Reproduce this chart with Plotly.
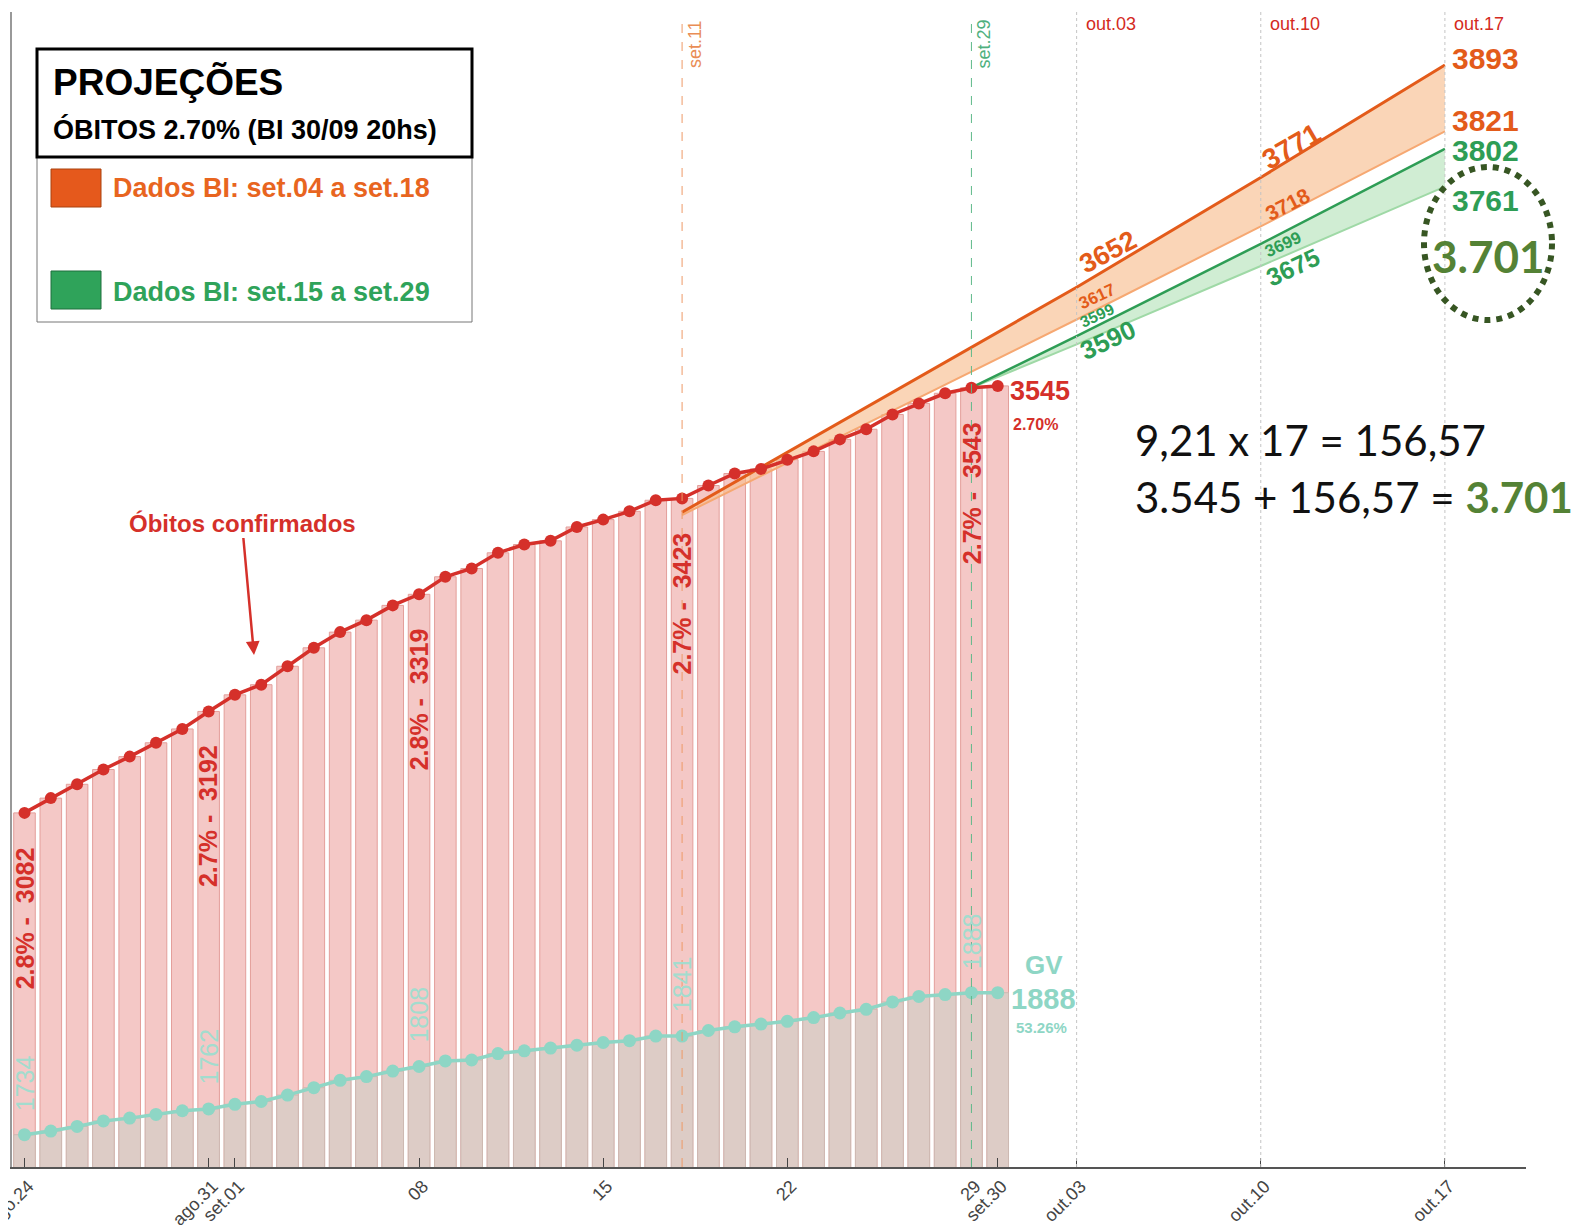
import pandas as pd
import plotly.graph_objects as go

# ---------------- data ----------------
dates = pd.date_range("2020-08-24", "2020-09-30", freq="D")
deaths = [3082, 3098, 3113, 3129, 3143, 3158, 3173, 3192,
          3210, 3221, 3241, 3261, 3278, 3291, 3307, 3319, 3338, 3347,
          3364, 3373, 3377, 3392, 3400, 3409, 3421, 3423, 3437, 3450,
          3455, 3465, 3474, 3487, 3498, 3514, 3526, 3537, 3543, 3545]
gv = [1734, 1738, 1743, 1749, 1752, 1756, 1760, 1762,
      1767, 1770, 1777, 1785, 1793, 1797, 1803, 1808, 1814, 1815,
      1822, 1825, 1828, 1831, 1834, 1836, 1841, 1841, 1847, 1851,
      1854, 1857, 1861, 1866, 1870, 1878, 1884, 1886, 1888, 1888]
label_idx = [0, 7, 15, 25, 36]
label_pct = ["2.8%", "2.7%", "2.8%", "2.7%", "2.7%"]

proj_or_dates = ["2020-09-18", "2020-10-03", "2020-10-10", "2020-10-17"]
proj_or_hi = [3408, 3652, 3771, 3893]
proj_or_lo = [3405, 3617, 3718, 3821]
proj_gr_dates = ["2020-09-29", "2020-10-03", "2020-10-10", "2020-10-17"]
proj_gr_hi = [3543, 3599, 3699, 3802]
proj_gr_lo = [3543, 3590, 3675, 3761]

tick_vals = ["2020-08-24", "2020-08-31", "2020-09-01", "2020-09-08", "2020-09-15",
             "2020-09-22", "2020-09-29", "2020-09-30", "2020-10-03", "2020-10-10",
             "2020-10-17"]
tick_text = ["ago.24", "ago.31", "set.01", "08", "15", "22", "29", "set.30",
             "out.03", "out.10", "out.17"]
week_lines = ["2020-10-03", "2020-10-10", "2020-10-17"]
week_labels = ["out.03", "out.10", "out.17"]

# ---------------- style ----------------
FONT = "Liberation Sans, Arial, sans-serif"
RED = "#D5302A"
PINK = "#F4C8C6"
PINK_EDGE = "#E39E9A"
TAUPE = "#DDCCC6"
TAUPE_EDGE = "#CDB9B2"
MINT = "#8ED6C5"
MINT_LIGHT = "#A3DCCE"
ORANGE = "#E35B1A"
ORANGE_LIGHT = "#F6A872"
ORANGE_FILL = "rgba(248,190,145,0.65)"
GREEN = "#2E9D55"
GREEN_LIGHT = "#9FD9A6"
GREEN_FILL = "rgba(170,222,175,0.55)"
DAY_MS = 86400000

BODY = 8                      # default page margin around the figure
L, T, W, H = 12, 12, 1514, 1155   # plot area in page pixels
FIG_W, FIG_H = 1580 - BODY, 1225 - BODY


def px(x):
    return (x - L) / W


def py(y):
    return (T + H - y) / H


fig = go.Figure()

# bars
fig.add_trace(go.Bar(x=dates, y=deaths, width=0.82 * DAY_MS,
                     marker=dict(color=PINK, line=dict(color=PINK_EDGE, width=1)),
                     hoverinfo="skip"))
fig.add_trace(go.Bar(x=dates, y=gv, width=0.82 * DAY_MS, yaxis="y2",
                     marker=dict(color=TAUPE, line=dict(color=TAUPE_EDGE, width=1)),
                     hoverinfo="skip"))

# projection bands
fig.add_trace(go.Scatter(x=proj_or_dates, y=proj_or_lo, mode="lines",
                         line=dict(color=ORANGE_LIGHT, width=2)))
fig.add_trace(go.Scatter(x=proj_or_dates, y=proj_or_hi, mode="lines", fill="tonexty",
                         fillcolor=ORANGE_FILL, line=dict(color=ORANGE, width=3)))
fig.add_trace(go.Scatter(x=proj_gr_dates, y=proj_gr_lo, mode="lines",
                         line=dict(color=GREEN_LIGHT, width=2)))
fig.add_trace(go.Scatter(x=proj_gr_dates, y=proj_gr_hi, mode="lines", fill="tonexty",
                         fillcolor=GREEN_FILL, line=dict(color=GREEN, width=2.5)))

# lines
fig.add_trace(go.Scatter(x=dates, y=deaths, mode="lines+markers",
                         line=dict(color=RED, width=3.5),
                         marker=dict(color=RED, size=12)))
fig.add_trace(go.Scatter(x=dates, y=gv, mode="lines+markers", yaxis="y2",
                         line=dict(color=MINT, width=3.5),
                         marker=dict(color=MINT, size=13)))

shapes = []
ann = []

# vertical reference lines
for d in week_lines:
    shapes.append(dict(type="line", xref="x", yref="paper", x0=d, x1=d, y0=0, y1=1,
                       line=dict(color="#C4C4C4", width=1, dash="dot"), layer="above"))
shapes.append(dict(type="line", xref="x", yref="paper", x0=dates[25], x1=dates[25],
                   y0=0, y1=0.995, line=dict(color="#EE9A66", width=1, dash="dash"),
                   layer="above"))
shapes.append(dict(type="line", xref="x", yref="paper", x0=dates[36], x1=dates[36],
                   y0=0, y1=0.995, line=dict(color="#5FB98A", width=1, dash="dash"),
                   layer="above"))

for d, t in zip(week_lines, week_labels):
    ann.append(dict(x=d, y=py(24), xref="x", yref="paper", text=t, showarrow=False,
                    xanchor="left", yanchor="middle", xshift=7,
                    font=dict(family=FONT, size=18, color="#D42A1E")))
ann.append(dict(x=dates[25], y=py(44), xref="x", yref="paper", text="set.11",
                showarrow=False, textangle=-90, xanchor="left", xshift=1,
                font=dict(family=FONT, size=18, color="#E98D55")))
ann.append(dict(x=dates[36], y=py(44), xref="x", yref="paper", text="set.29",
                showarrow=False, textangle=-90, xanchor="left", xshift=1,
                font=dict(family=FONT, size=18, color="#4FB07E")))

# vertical labels in bars
for i, p in zip(label_idx, label_pct):
    ann.append(dict(x=dates[i], y=deaths[i], xref="x", yref="y",
                    text=f"<b>{p} -  {deaths[i]}</b>", showarrow=False,
                    textangle=-90, xanchor="center", yanchor="top", yshift=-32,
                    font=dict(family=FONT, size=25, color=RED)))
    ann.append(dict(x=dates[i], y=gv[i], xref="x", yref="y2",
                    text=f"{gv[i]}", showarrow=False,
                    textangle=-90, xanchor="center", yanchor="bottom", yshift=22,
                    font=dict(family=FONT, size=25, color=MINT_LIGHT)))

# end labels
ann += [
    dict(x=px(1008), y=py(391), text=f"<b>{deaths[-1]}</b>",
         font=dict(family=FONT, size=27, color=RED)),
    dict(x=px(1011), y=py(424), text="<b>2.70%</b>",
         font=dict(family=FONT, size=16, color=RED)),
    dict(x=px(1023), y=py(965), text="<b>GV</b>",
         font=dict(family=FONT, size=26, color=MINT)),
    dict(x=px(1009), y=py(999), text=f"<b>{gv[-1]}</b>",
         font=dict(family=FONT, size=29, color=MINT)),
    dict(x=px(1014), y=py(1027), text="<b>53.26%</b>",
         font=dict(family=FONT, size=15, color=MINT)),
]

# projection labels
proj_lab = [
    (1108, 252, proj_or_hi[1], 27, ORANGE, -28),
    (1097, 296, proj_or_lo[1], 17, ORANGE, -25),
    (1097, 315, proj_gr_hi[1], 16, GREEN, -25),
    (1108, 340, proj_gr_lo[1], 26, GREEN, -25),
    (1291, 146, proj_or_hi[2], 28, ORANGE, -30),
    (1287, 204, proj_or_lo[2], 21, ORANGE, -27),
    (1283, 244, proj_gr_hi[2], 17, GREEN, -25),
    (1293, 267, proj_gr_lo[2], 25, GREEN, -25),
]
for x, y, v, s, c, a in proj_lab:
    ann.append(dict(x=px(x), y=py(y), text=f"<b>{v}</b>", textangle=a,
                    xanchor="center", font=dict(family=FONT, size=s, color=c)))
for y, v, c in [(59, proj_or_hi[3], ORANGE), (120, proj_or_lo[3], ORANGE),
                (150, proj_gr_hi[3], GREEN), (200, proj_gr_lo[3], GREEN)]:
    ann.append(dict(x=px(1450), y=py(y), text=f"<b>{v}</b>",
                    font=dict(family=FONT, size=30, color=c)))

# circled result
shapes.append(dict(type="circle", xref="paper", yref="paper",
                   x0=px(1424), x1=px(1552), y0=py(320), y1=py(167),
                   line=dict(color="#375623", width=6, dash="dot"), layer="above"))
ann.append(dict(x=px(1488), y=py(256), text="<b>3.701</b>", xanchor="center",
                font=dict(family="Lato, Open Sans, sans-serif", size=44, color="#548235")))

# formula text
ann.append(dict(x=px(1133), y=py(440), text="9,21 x 17 = 156,57",
                font=dict(family="Lato, Open Sans, sans-serif", size=42, color="#111111")))
ann.append(dict(x=px(1133), y=py(497),
                text="3.545 + 156,57 = <b><span style='color:#548235'>3.701</span></b>",
                font=dict(family="Lato, Open Sans, sans-serif", size=42, color="#111111")))

# Óbitos confirmados arrow
ann.append(dict(x=px(254), y=py(655), xref="paper", yref="paper",
                text="<b>Óbitos confirmados</b>", showarrow=True, xanchor="center",
                ax=-12, ay=-132, arrowhead=2, arrowsize=1.1, arrowwidth=2.5,
                arrowcolor=RED, font=dict(family=FONT, size=24, color=RED)))

# legend box
shapes += [
    dict(type="rect", xref="paper", yref="paper", x0=px(37), x1=px(472),
         y0=py(322), y1=py(49), line=dict(color="#777777", width=1),
         fillcolor="white", layer="above"),
    dict(type="rect", xref="paper", yref="paper", x0=px(37), x1=px(472),
         y0=py(157), y1=py(49), line=dict(color="black", width=3), layer="above"),
    dict(type="rect", xref="paper", yref="paper", x0=px(51), x1=px(101),
         y0=py(207), y1=py(169), fillcolor="#E5591C",
         line=dict(color="#A9420F", width=1), layer="above"),
    dict(type="rect", xref="paper", yref="paper", x0=px(51), x1=px(101),
         y0=py(309), y1=py(271), fillcolor="#2FA35A",
         line=dict(color="#1F6E3C", width=1), layer="above"),
]
ann += [
    dict(x=px(51), y=py(82), text="<b>PROJEÇÕES</b>",
         font=dict(family=FONT, size=37, color="black")),
    dict(x=px(51), y=py(129), text="<b>ÓBITOS 2.70% (BI 30/09 20hs)</b>",
         font=dict(family=FONT, size=27, color="black")),
    dict(x=px(111), y=py(188), text="<b>Dados BI: set.04 a set.18</b>",
         font=dict(family=FONT, size=27, color="#E8651F")),
    dict(x=px(111), y=py(292), text="<b>Dados BI: set.15 a set.29</b>",
         font=dict(family=FONT, size=27, color="#2FA35A")),
]

for a in ann:
    a.setdefault("xref", "paper")
    a.setdefault("yref", "paper")
    a.setdefault("showarrow", False)
    a.setdefault("xanchor", "left")
    a.setdefault("yanchor", "middle")

# y ranges: 0.9222 px per unit, GV axis offset by 999 units
Y1 = [2698, 2698 + H / 0.9222]
Y2 = [Y1[0] - 999, Y1[1] - 999]

fig.update_layout(
    width=FIG_W, height=FIG_H,
    margin=dict(l=L - BODY, r=FIG_W - (L - BODY) - W, t=T - BODY,
                b=FIG_H - (T - BODY) - H),
    plot_bgcolor="white", paper_bgcolor="white",
    showlegend=False, barmode="overlay",
    shapes=shapes, annotations=ann,
    xaxis=dict(type="date", range=["2020-08-23 12:36", "2020-10-20 02:00"],
               showline=True, linecolor="#555555", linewidth=1.5,
               ticks="inside", ticklen=9, tickcolor="#444444", tickwidth=1,
               tickvals=tick_vals, ticktext=tick_text, tickangle=-45,
               ticklabelshift=4, ticklabelstandoff=0, ticklabeloverflow="allow",
               tickfont=dict(family=FONT, size=18, color="#444444"),
               showgrid=False, zeroline=False, automargin=False),
    yaxis=dict(range=Y1, showline=True, linecolor="#999999", linewidth=1.5,
               showticklabels=False, ticks="", showgrid=False, zeroline=False,
               automargin=False),
    yaxis2=dict(range=Y2, overlaying="y", visible=False,
                showgrid=False, zeroline=False),
)

fig.write_html("out.html")
